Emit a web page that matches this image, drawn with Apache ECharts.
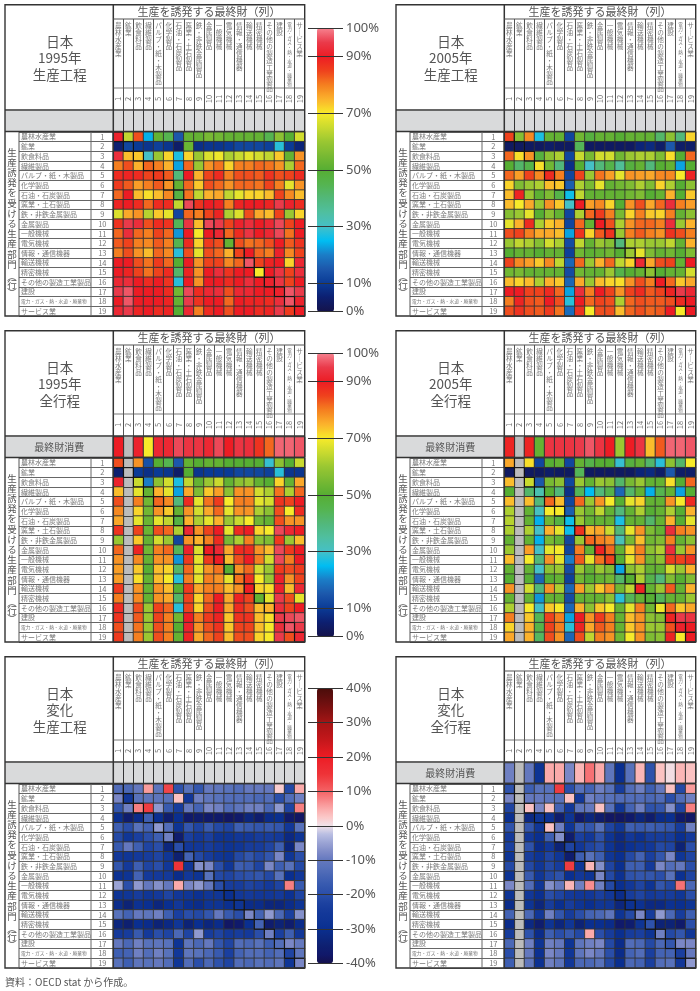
<!DOCTYPE html>
<html><head><meta charset="utf-8">
<style>html,body{margin:0;padding:0;background:#fff}#c{width:700px;height:991px}</style>
<script src="https://cdn.jsdelivr.net/npm/echarts@6/dist/echarts.min.js"></script>
</head><body><div id="c"></div>
<script>
const sectors=['農林水産業','鉱業','飲食料品','繊維製品','パルプ・紙・木製品','化学製品','石油・石炭製品','窯業・土石製品','鉄・非鉄金属製品','金属製品','一般機械','電気機械','情報・通信機器','輸送機械','精密機械','その他の製造工業製品','建設','電力・ガス・熱・水道・廃棄物','サービス業'];
const sectorNumbers=sectors.map((_,i)=>String(i+1));
const levelTicks=[0,10,30,50,70,90,100];
const changeTicks=[-40,-30,-20,-10,0,10,20,30,40];
const levelColors=['#15134a','#0d1f70','#0a3a96','#1c57ab','#1b7cc6','#00bdf2','#45c0c7','#4fbfa0','#52b87a','#55b450','#56ae33','#78b933','#9ac732','#c9da2f','#f7ea2a','#fbb22c','#f57f20','#ef421d','#ed1c24','#ea3a4a','#f6818f'];
const changeColors=['#14114c','#11186a','#0e2070','#0c2880','#0a2f90','#0f3595','#14399a','#1c41a0','#2a4ea9','#3558ae','#4463b4','#5570ba','#6478be','#7f8bc8','#9aa3d4','#b8bee2','#f0e2ea','#fbc8c8','#fbaaaa','#f88688','#f46366','#f14a4e','#ee3338','#ed2830','#ed1c24','#d81a1f','#c4171b','#b41518','#a51515','#8c1212','#751010','#5f0e0d','#4a0d0a'];

const prod1995=[
[91,64,84,24,52,45,15,52,52,55,54,52,52,52,52,45,58,50,66],
[5,12,10,9,11,9,4,53,8,9,9,10,12,12,12,11,28,10,6],
[93,74,73,30,60,72,27,72,60,67,69,62,65,68,66,64,73,52,78],
[80,84,75,82,80,75,23,82,60,78,81,72,80,80,82,81,78,62,82],
[88,89,88,85,86,83,40,90,75,85,88,80,84,84,83,87,84,85,88],
[86,83,77,80,83,78,52,82,73,84,82,78,82,82,81,85,80,68,78],
[82,90,74,71,74,79,47,81,64,75,76,64,68,72,72,74,85,79,74],
[89,90,88,82,88,88,64,96,87,90,89,80,89,90,90,89,95,91,88],
[67,76,78,63,73,68,12,82,80,85,89,62,67,84,76,74,85,60,72],
[87,95,93,84,88,87,44,94,74,96,95,85,91,93,90,92,96,85,90],
[82,93,82,80,85,82,22,90,70,90,92,82,88,94,90,92,96,81,90],
[83,85,80,79,83,80,45,88,72,86,84,52,84,81,82,84,90,83,87],
[80,84,78,74,82,79,28,84,68,84,82,75,85,90,82,80,91,79,85],
[90,90,84,81,86,82,50,90,78,85,85,79,82,97,85,89,90,72,92],
[90,89,85,81,85,88,42,89,78,90,93,87,90,90,70,90,94,85,93],
[92,93,90,88,90,87,28,90,78,90,90,88,90,93,90,91,94,85,90],
[95,97,90,90,90,88,54,96,88,92,93,84,92,92,90,90,91,97,95],
[90,97,90,90,90,89,52,95,87,90,90,82,90,89,89,88,93,97,91],
[92,95,89,90,88,89,50,92,80,88,90,84,90,90,88,89,95,86,90]];
const prod2005=[
[85,57,79,27,52,52,12,54,48,52,52,50,52,52,52,42,58,40,72],
[3,3,3,3,4,3,3,44,3,3,3,3,3,6,7,4,15,4,4],
[82,71,78,48,58,62,12,65,55,66,66,54,60,62,62,56,71,50,82],
[50,42,46,71,54,40,8,50,30,40,46,36,48,52,40,50,52,23,50],
[82,77,85,79,88,80,12,85,60,81,77,68,78,77,76,79,79,70,89],
[72,56,60,62,74,73,16,62,55,68,52,54,56,62,56,72,62,50,58],
[74,89,60,51,56,46,26,64,52,52,52,52,54,56,50,52,75,50,73],
[74,70,76,60,78,73,30,90,77,79,72,50,78,84,76,82,93,80,77],
[57,60,68,50,58,52,12,62,82,86,80,55,72,80,73,72,80,52,58],
[68,75,88,62,73,75,12,82,52,90,84,62,78,82,82,80,93,60,75],
[84,85,80,76,76,74,23,87,72,83,87,60,80,83,80,78,87,84,80],
[60,64,62,57,66,62,13,64,52,60,57,40,62,62,60,60,64,52,75],
[50,52,52,50,52,52,11,54,51,52,54,50,60,68,56,52,54,50,56],
[85,79,77,73,79,64,17,82,60,75,82,64,72,92,76,84,85,52,90],
[54,55,52,52,52,52,13,54,52,52,60,46,50,52,58,50,52,52,66],
[74,72,74,62,75,73,17,76,60,74,72,71,78,84,80,90,82,73,76],
[90,90,85,85,88,82,23,93,80,90,85,78,85,88,83,85,89,95,92],
[80,89,84,83,90,84,28,90,82,85,84,62,82,84,83,83,84,88,90],
[84,87,84,83,86,81,18,87,70,84,84,74,82,84,82,83,90,70,90]];
const cons1995=[90,null,91,70,92,92,96,94,94,92,96,90,94,93,87,82,98,98,97];
const all1995=[
[84,null,78,14,50,45,15,52,50,52,52,50,50,50,50,29,58,50,65],
[5,null,10,8,10,9,4,50,9,10,10,10,12,12,12,11,28,9,9],
[91,null,65,20,58,66,27,64,52,60,65,52,58,60,52,50,72,52,76],
[74,null,68,52,75,68,23,76,56,73,77,58,78,78,66,62,81,62,82],
[84,null,80,54,82,79,40,88,68,81,86,70,80,80,68,66,87,85,90],
[79,null,72,54,78,73,52,78,66,76,82,68,78,78,62,58,84,70,88],
[76,null,68,53,68,64,47,75,62,68,75,60,65,70,54,52,84,78,78],
[87,null,85,53,84,82,62,92,78,85,90,68,88,90,72,70,96,92,90],
[60,null,73,52,66,60,12,78,75,80,88,55,62,80,58,56,86,60,74],
[82,null,89,54,80,82,44,91,67,90,92,76,88,88,78,74,96,86,90],
[78,null,79,52,78,78,22,86,68,86,90,74,84,90,80,66,96,80,90],
[77,null,73,50,74,72,42,82,68,78,81,50,78,82,66,60,86,84,86],
[77,null,71,52,74,70,28,80,68,80,78,68,81,87,70,60,91,78,85],
[86,null,78,52,78,74,50,86,76,80,80,74,78,90,72,71,91,74,92],
[80,null,79,52,78,76,42,85,72,82,90,76,89,85,52,68,95,84,68],
[88,null,84,60,85,82,28,85,72,84,90,76,88,84,74,75,93,85,90],
[87,null,83,60,85,80,54,90,80,86,89,73,87,87,74,71,95,96,97],
[84,null,81,60,84,80,50,91,78,84,87,73,85,85,74,70,93,97,95],
[86,null,80,60,84,80,52,89,76,82,85,74,84,84,72,70,95,84,92]];
const cons2005=[89,null,89,52,94,94,94,95,97,94,90,60,90,94,74,83,98,98,97];
const all2005=[
[76,null,71,12,50,52,12,52,46,50,50,29,48,52,42,28,58,42,70],
[3,null,3,3,4,3,3,44,3,3,3,3,3,6,7,4,15,4,4],
[74,null,65,15,55,58,12,60,52,60,58,42,55,60,52,52,71,50,82],
[50,null,42,33,50,40,8,44,25,40,46,17,42,52,24,45,52,23,50],
[74,null,74,40,82,74,12,82,60,78,70,50,68,72,52,52,78,70,88],
[62,null,52,31,70,70,16,60,54,64,52,40,52,62,50,52,62,50,75],
[63,null,52,24,54,47,26,60,52,52,52,27,52,52,42,52,75,50,68],
[62,null,62,30,75,68,26,87,75,76,65,40,68,78,56,52,93,80,78],
[52,null,52,24,55,52,12,60,82,80,78,32,55,74,54,56,80,52,58],
[60,null,77,30,68,70,12,80,52,89,82,52,72,80,58,62,93,60,78],
[74,null,70,40,78,68,20,83,68,81,85,50,68,78,54,58,86,85,87],
[52,null,52,30,58,60,13,60,52,60,56,23,58,62,52,52,66,60,75],
[50,null,50,17,50,52,11,54,50,52,54,42,50,62,46,40,56,50,56],
[78,null,66,40,78,62,17,77,60,73,78,54,64,89,52,60,83,52,75],
[52,null,52,22,52,52,13,52,52,52,58,28,44,52,50,44,52,52,60],
[62,null,70,30,73,70,17,75,58,73,70,52,68,80,54,69,82,73,76],
[80,null,73,44,85,80,23,90,78,86,80,52,74,78,58,57,89,95,94],
[72,null,75,46,85,80,28,89,76,83,80,52,73,78,60,60,84,91,90],
[76,null,75,43,84,78,17,84,64,80,78,54,70,78,56,58,89,70,90]];
const changeProd=[
[-13,-14,-10,6,-11,13,-19,-12,-18,-10,-11,-12,-13,-10,-10,-10,2,-21,5],
[-8,-26,-12,-11,-11,-12,3,-26,-9,-11,-12,-13,-13,-13,-14,-13,-20,-13,-9],
[-18,-9,8,14,-6,-17,-24,-10,-15,-8,-9,-13,-11,-9,-9,-14,-6,-22,8],
[-30,-36,-31,-16,-30,-36,-30,-37,-36,-37,-37,-38,-37,-33,-36,-31,-30,-37,-38],
[-16,-20,-12,-15,-6,-13,-28,-18,-22,-17,-21,-22,-16,-17,-18,-17,-18,-26,-12],
[-21,-27,-23,-20,-16,-9,-36,-23,-26,-23,-28,-28,-26,-26,-24,-24,-25,-32,-28],
[-17,-10,-16,-22,-20,-33,-20,-26,-26,-24,-26,-28,-27,-24,-24,-22,-16,-33,-8],
[-26,-27,-25,-24,-22,-27,-35,-15,-21,-24,-27,-28,-21,-18,-21,-18,-8,-27,-20],
[-18,-25,-16,-22,-20,-26,15,-27,-7,-8,-20,-27,-16,-17,-22,-8,-16,-12,-21],
[-29,-28,-15,-25,-25,-25,-31,-26,-28,-12,-21,-22,-20,-19,-18,-21,-12,-30,-26],
[-5,-20,-6,-10,-7,-10,5,-8,-6,-10,-20,-24,-24,-22,-23,-25,-22,8,-17],
[-28,-27,-24,-27,-25,-22,-26,-27,-29,-27,-27,-30,-26,-25,-26,-26,-25,-29,-22],
[-31,-34,-29,-30,-33,-30,-26,-30,-31,-28,-28,-30,-28,-31,-31,-33,-33,-31,-28],
[-12,-15,-10,-11,-9,-16,-23,-20,-21,-18,-10,-17,-20,-8,-15,-6,-14,-23,-7],
[-33,-35,-30,-31,-34,-32,-27,-34,-30,-33,-31,-38,-37,-30,-15,-36,-34,-36,-31],
[-25,-24,-17,-25,-20,-22,-14,-22,-6,-24,-22,-25,-24,-25,-20,-9,-23,-16,-26],
[-10,-14,-9,-12,-11,-12,-28,-11,-14,-10,-18,-22,-13,-14,-12,-16,-13,-8,-10],
[-16,-15,-9,-13,-9,-12,-26,-11,-12,-14,-17,-23,-15,-13,-13,-15,-13,-22,-11],
[-12,-16,-11,-12,-10,-13,-27,-13,-20,-14,-19,-22,-13,-14,-12,-13,-11,-27,-8]];
const consChange=[-9,null,-10,-28,5,5,-8,4,9,5,-11,-30,-12,4,-19,3,0.5,4,3];
const changeAll=[
[-19,null,-16,-12,-12,14,-20,-12,-15,-9,-12,-24,-13,-9,-16,-10,3,-21,6],
[-8,null,-10,-10,-11,-12,3,-26,-9,-11,-12,-13,-13,-13,-14,-13,-20,-13,-9],
[-22,null,3,-8,3,-15,-26,-11,-10,3,-12,-27,-15,-9,-19,-18,-7,-22,8],
[-30,null,-32,-28,-29,-36,-28,-37,-33,-36,-38,-38,-37,-33,-36,-31,-30,-37,-38],
[-19,null,-18,-27,3,-9,-27,-16,-18,-12,-22,-27,-16,-17,-16,-17,-18,-24,-9],
[-25,null,-26,-30,-16,-7,-36,-23,-26,-19,-28,-32,-26,-29,-24,-24,-24,-30,-25],
[-23,null,-19,-31,-26,-34,-22,-26,-22,-20,-28,-32,-29,-27,-26,-21,-22,-34,-20],
[-28,null,-24,-28,-22,-27,-36,-16,-12,-16,-27,-30,-21,-15,-23,-18,-8,-27,-22],
[-21,null,-21,-27,-21,-24,14,-27,4,-7,-22,-30,-16,-16,-25,-8,-13,-10,-20],
[-28,null,-17,-27,-21,-19,-30,-26,-28,-8,-21,-29,-19,-18,-18,-20,-12,-29,-22],
[-8,null,-13,-27,-7,-10,4,-9,7,-9,-21,-30,-26,-22,-28,-18,-21,9,-14],
[-28,null,-26,-30,-20,-22,-25,-26,-26,-23,-26,-31,-24,-22,-25,-24,-24,-27,-20],
[-31,null,-28,-33,-24,-30,-24,-28,-30,-27,-27,-33,-29,-29,-32,-32,-29,-30,-28],
[-15,null,-14,-26,-9,-18,-24,-20,-15,-14,-11,-28,-21,-8,-24,-6,-14,-24,-16],
[-31,null,-32,-36,-28,-33,-27,-34,-30,-30,-31,-37,-36,-28,-19,-34,-34,-37,-20],
[-24,null,-19,-31,-16,-20,-17,-21,5,-20,-24,-30,-24,-23,-28,-9,-21,-18,-27],
[-14,null,-9,-28,-9,-10,-28,-11,-9,-8,-21,-31,-13,-14,-21,-14,-18,-8,-8],
[-20,null,-10,-29,-8,-10,-27,-11,-8,-10,-20,-31,-15,-13,-23,-15,-15,-23,-10],
[-16,null,-11,-29,-9,-11,-26,-14,-14,-12,-21,-30,-14,-15,-23,-13,-12,-26,-6]];

const FONT='"Noto Sans CJK JP"', INK='#555555', LABEL='#7a7a7a', LINE='#333333';
const panels=[
 {title:'日本\n1995年\n生産工程',ox:0,oy:0,main:prod1995,cons:null,scale:0},
 {title:'日本\n2005年\n生産工程',ox:391,oy:0,main:prod2005,cons:null,scale:0},
 {title:'日本\n1995年\n全行程',ox:0,oy:326,main:all1995,cons:cons1995,scale:1},
 {title:'日本\n2005年\n全行程',ox:391,oy:326,main:all2005,cons:cons2005,scale:1},
 {title:'日本\n変化\n生産工程',ox:0,oy:652,main:changeProd,cons:null,scale:2},
 {title:'日本\n変化\n全行程',ox:391,oy:652,main:changeAll,cons:consChange,scale:2}];
const grid=[],xAxis=[],yAxis=[],series=[],graphic=[];
const scaleSeries=[[],[],[]];
const vertical=(s)=>{
  const small=s.length>12;
  return [...s].map(ch=>{const c=ch==='ー'?'｜':ch;return small?`{s|${c}}`:`{n|${c}}`;}).join('\n');
};
const line=(x1,y1,x2,y2,w,c)=>({type:'line',shape:{x1,y1,x2,y2},style:{stroke:c||LINE,lineWidth:w||1},z:50,silent:true});
const ink=(o)=>Object.assign({fontFamily:FONT,color:INK},o);

panels.forEach(p=>{
  const L=5+p.ox,R=304.7+p.ox,T=4.7+p.oy,B=316+p.oy,TR=113.3+p.ox;
  const hdrB=19+p.oy,nameB=88+p.oy,numB=110+p.oy,consT=111+p.oy,consB=131+p.oy,heatT=132+p.oy;
  const colA=19+p.ox,colB=91+p.ox;
  graphic.push({type:'rect',shape:{x:L,y:consT,width:TR-L,height:consB-consT},style:{fill:'#d9dadb'},z:-1,silent:true});
  const gTop=grid.length;
  grid.push({left:TR,top:consT,width:R-TR,height:consB-consT,show:true,borderWidth:0,backgroundColor:p.cons?'#bcbcbc':'#d9dadb'});
  const xNames=xAxis.length;
  xAxis.push({gridIndex:gTop,type:'category',position:'top',data:sectors,
    axisLine:{show:false},axisTick:{show:true,interval:0,length:92,lineStyle:{color:'#555',width:1}},
    splitLine:{show:true,interval:0,lineStyle:{color:LINE,width:1}},
    axisLabel:{interval:0,margin:89,verticalAlign:'top',align:'center',formatter:vertical,hideOverlap:false,
      rich:{n:{fontFamily:FONT,fontSize:6.6,lineHeight:7,color:LABEL},s:{fontFamily:FONT,fontSize:4.6,lineHeight:4.6,color:LABEL}}}});
  xAxis.push({gridIndex:gTop,type:'category',position:'top',data:sectorNumbers,
    axisLine:{show:false},axisTick:{show:false},splitLine:{show:false},
    axisLabel:ink({interval:0,rotate:-90,margin:12,align:'center',verticalAlign:'middle',fontSize:7.5,color:'#777',hideOverlap:false})});
  const yCons=yAxis.length;
  yAxis.push({gridIndex:gTop,type:'category',position:'left',data:[p.cons?'最終財消費':''],axisLine:{show:false},axisTick:{show:false},
    axisLabel:ink({interval:0,margin:54,align:'center',fontSize:10})});
  if(p.cons){
    const d=[];p.cons.forEach((v,c)=>{if(v!==null)d.push([c,0,v]);});
    scaleSeries[p.scale].push(series.length);
    series.push({type:'heatmap',xAxisIndex:xNames,yAxisIndex:yCons,data:d,silent:true,
      itemStyle:{borderColor:LINE,borderWidth:1},emphasis:{disabled:true}});
  }
  const gMain=grid.length;
  grid.push({left:TR,top:heatT,width:R-TR,height:B-heatT,show:true,borderWidth:0,backgroundColor:'#bcbcbc'});
  const xMain=xAxis.length;
  xAxis.push({gridIndex:gMain,type:'category',data:sectors,position:'top',axisLine:{show:false},axisTick:{show:false},axisLabel:{show:false},
    splitLine:{show:true,interval:0,lineStyle:{color:LINE,width:0.9}}});
  const yMain=yAxis.length;
  yAxis.push({gridIndex:gMain,type:'category',position:'left',inverse:true,data:sectors,
    axisLine:{show:false},axisTick:{show:true,interval:0,length:TR-colA,lineStyle:{color:'#666',width:1}},
    splitLine:{show:true,interval:0,lineStyle:{color:LINE,width:0.9}},
    axisLabel:{interval:0,margin:TR-colA-2,align:'left',hideOverlap:false,
      formatter:(s)=>s.length>12?`{s|${s}}`:`{n|${s}}`,
      rich:{n:{fontFamily:FONT,fontSize:7,color:LABEL},s:{fontFamily:FONT,fontSize:4.7,color:LABEL}}}});
  yAxis.push({gridIndex:gMain,type:'category',position:'left',inverse:true,data:sectorNumbers,axisLine:{show:false},axisTick:{show:false},splitLine:{show:false},
    axisLabel:ink({interval:0,margin:11,align:'center',fontSize:7.5,color:'#777',hideOverlap:false})});
  const d=[];
  p.main.forEach((row,r)=>row.forEach((v,c)=>{if(v!==null)d.push([c,r,v]);}));
  scaleSeries[p.scale].push(series.length);
  series.push({type:'heatmap',xAxisIndex:xMain,yAxisIndex:yMain,data:d,silent:true,
    itemStyle:{borderColor:LINE,borderWidth:0.9},emphasis:{disabled:true}});
  series.push({type:'custom',xAxisIndex:xMain,yAxisIndex:yMain,silent:true,z:5,
    data:sectors.map((_,i)=>[i,i]),encode:{x:0,y:1},
    renderItem:(params,api)=>{
      const q=api.coord([api.value(0),api.value(1)]),s=api.size([1,1]);
      return {type:'rect',shape:{x:q[0]-s[0]/2,y:q[1]-s[1]/2,width:s[0],height:s[1]},style:{fill:'transparent',stroke:'#111111',lineWidth:1}};
    }});
  graphic.push({type:'rect',shape:{x:L,y:T,width:R-L,height:B-T},style:{fill:'transparent',stroke:LINE,lineWidth:1.4},z:50,silent:true});
  graphic.push(line(TR,T,TR,B,1.5));
  graphic.push(line(TR,hdrB,R,hdrB,1,'#555'));
  graphic.push(line(TR,nameB,R,nameB,0.8,'#555'));
  graphic.push(line(L,numB,R,numB,1.5));
  graphic.push(line(L,consB+0.5,R,consB+0.5,1.5));
  graphic.push(line(colA,heatT,colA,B,1,'#555'));
  graphic.push(line(colB,heatT,colB,B,1,'#666'));
  graphic.push({type:'text',style:{x:(L+TR)/2+0.5,y:58+p.oy,text:p.title,fontFamily:FONT,fontSize:13.5,lineHeight:16.5,fill:INK,align:'center',verticalAlign:'middle'},z:60,silent:true});
  graphic.push({type:'text',style:{x:(TR+R)/2,y:12+p.oy,text:'生産を誘発する最終財（列）',fontFamily:FONT,fontSize:11,fill:INK,align:'center',verticalAlign:'middle'},z:60,silent:true});
  graphic.push({type:'text',style:{x:12+p.ox,y:208+p.oy,text:[...'生産誘発を受ける生産部門'].join('\n'),fontFamily:FONT,fontSize:9.5,lineHeight:10.2,fill:INK,align:'center',verticalAlign:'middle'},z:60,silent:true});
  graphic.push({type:'text',style:{x:12+p.ox,y:284+p.oy,text:[...'︵行︶'].join('\n'),fontFamily:FONT,fontSize:9.5,lineHeight:8,fill:INK,align:'center',verticalAlign:'middle'},z:60,silent:true});
});

const bars=[
 {top:28.3,h:283.4,min:0,max:100,colors:levelColors,ticks:levelTicks,w:17},
 {top:353.3,h:283.4,min:0,max:100,colors:levelColors,ticks:levelTicks,w:17},
 {top:688.3,h:275,min:-40,max:40,colors:changeColors,ticks:changeTicks,w:16}];
const visualMap=bars.map((b,i)=>({type:'continuous',min:b.min,max:b.max,seriesIndex:scaleSeries[i],calculable:false,hoverLink:false,
  orient:'vertical',left:317,top:b.top,itemWidth:b.w,itemHeight:b.h,padding:0,text:null,showLabel:false,
  inRange:{color:b.colors},realtime:false}));
bars.forEach(b=>{
  const g=grid.length;
  grid.push({left:343,top:b.top,width:1,height:b.h,show:false});
  xAxis.push({gridIndex:g,type:'value',show:false,min:0,max:1});
  yAxis.push({gridIndex:g,type:'value',position:'left',min:b.min,max:b.max,z:20,
    axisLine:{show:false},splitLine:{show:false},
    axisTick:{show:true,length:35,customValues:b.ticks,lineStyle:{color:'#333',width:1}},
    axisLabel:{show:true,inside:true,margin:3,customValues:b.ticks,fontFamily:'"Noto Sans"',fontSize:13,color:INK,hideOverlap:false,formatter:'{value}%'}});
});
graphic.push({type:'text',style:{x:5,y:982,text:'資料：OECD stat から作成。',fontFamily:FONT,fontSize:10,fill:INK,align:'left',verticalAlign:'middle'},silent:true});

const chart=echarts.init(document.getElementById('c'),null,{renderer:'canvas'});
chart.setOption({animation:false,backgroundColor:'#fff',grid,xAxis,yAxis,series,visualMap,graphic:{elements:graphic}});
</script></body></html>
